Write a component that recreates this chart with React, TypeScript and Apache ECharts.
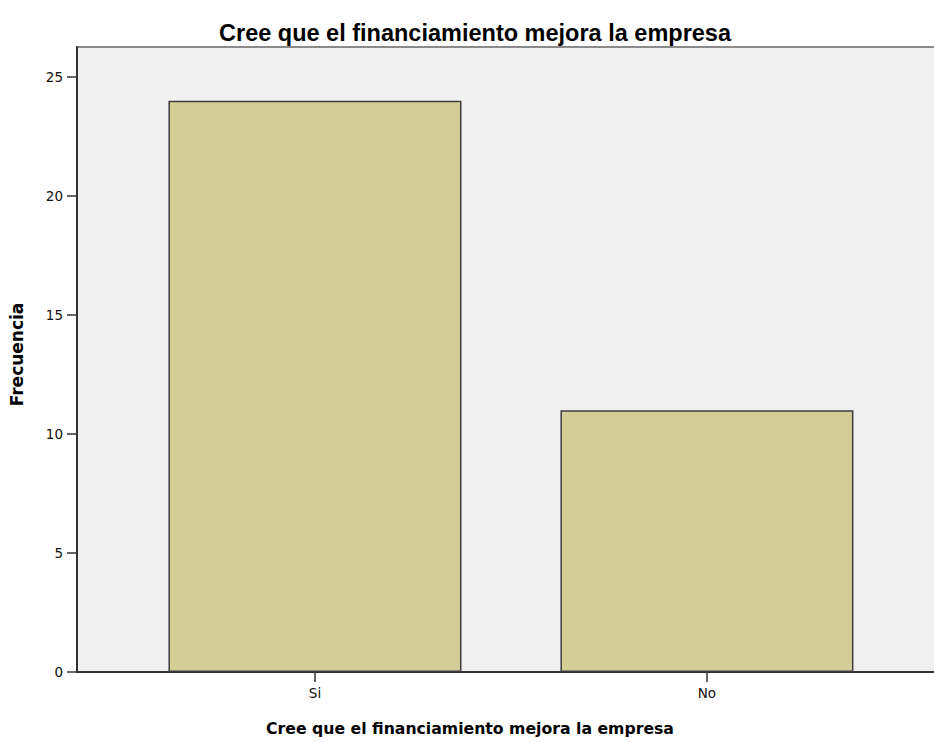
import React, { useEffect, useRef } from "react";
import * as echarts from "echarts";

const categories = ["Si", "No"];
const frequencies = [24, 11];
const yTicks = [0, 5, 10, 15, 20, 25];
const chartTitle = "Cree que el financiamiento mejora la empresa";
const xTitle = "Cree que el financiamiento mejora la empresa";
const yTitle = "Frecuencia";

export default function App() {
  const ref = useRef<HTMLDivElement>(null);
  useEffect(() => {
    if (!ref.current) return;
    const chart = echarts.init(ref.current, null, { renderer: "svg" });
    const positions = categories.map((_, i) => i + 1);
    chart.setOption({
      animation: false,
      backgroundColor: "#ffffff",
      title: [
        {
          text: chartTitle,
          left: 470,
          textAlign: "center",
          top: 16,
          textStyle: {
            fontFamily: "Liberation Sans, Arial",
            fontSize: 23.5,
            fontWeight: "bold",
            color: "#000",
          },
        },
        {
          text: xTitle,
          left: 465,
          textAlign: "center",
          top: 715,
          textStyle: {
            fontFamily: "DejaVu Sans",
            fontSize: 15.7,
            fontWeight: "bold",
            color: "#000",
          },
        },
      ],
      grid: {
        left: 77,
        top: 47,
        bottom: 70,
        width: 900,
        outerBoundsMode: "none",
        containLabel: false,
        show: true,
        backgroundColor: "#f0f0f0",
        borderColor: "#8a8a8a",
        borderWidth: 2,
      },
      xAxis: {
        type: "value",
        min: 0.3929,
        max: 2.689,
        splitLine: { show: false },
        axisLine: { show: true, lineStyle: { color: "#333", width: 2 } },
        axisTick: {
          show: true,
          customValues: positions,
          length: 10,
          lineStyle: { color: "#333", width: 1.5 },
        },
        axisLabel: {
          customValues: positions,
          formatter: (v: number) => categories[Math.round(v) - 1] ?? "",
          fontFamily: "DejaVu Sans",
          fontSize: 13.5,
          color: "#111",
          margin: 14,
        },
      },
      yAxis: {
        type: "value",
        min: 0,
        max: 26.26,
        name: yTitle,
        nameLocation: "middle",
        nameGap: 52,
        nameTextStyle: {
          fontFamily: "DejaVu Sans",
          fontWeight: "bold",
          fontSize: 17,
          color: "#000",
          padding: [0, 0, 0, 10],
        },
        splitLine: { show: false },
        axisLine: { show: true, lineStyle: { color: "#333", width: 2 } },
        axisTick: {
          show: true,
          customValues: yTicks,
          length: 10,
          lineStyle: { color: "#333", width: 1.5 },
        },
        axisLabel: {
          customValues: yTicks,
          fontFamily: "DejaVu Sans",
          fontSize: 13.5,
          color: "#111",
          margin: 14,
        },
      },
      series: [
        {
          type: "bar",
          data: categories.map((_, i) => [positions[i], frequencies[i]]),
          barWidth: 293,
          itemStyle: {
            color: "#d3ce97",
            borderColor: "#3c3c3c",
            borderWidth: 1.5,
          },
        },
      ],
    });
    return () => chart.dispose();
  }, []);
  return (
    <div
      ref={ref}
      style={{ position: "fixed", left: 0, top: 0, width: 934, height: 742 }}
    />
  );
}
